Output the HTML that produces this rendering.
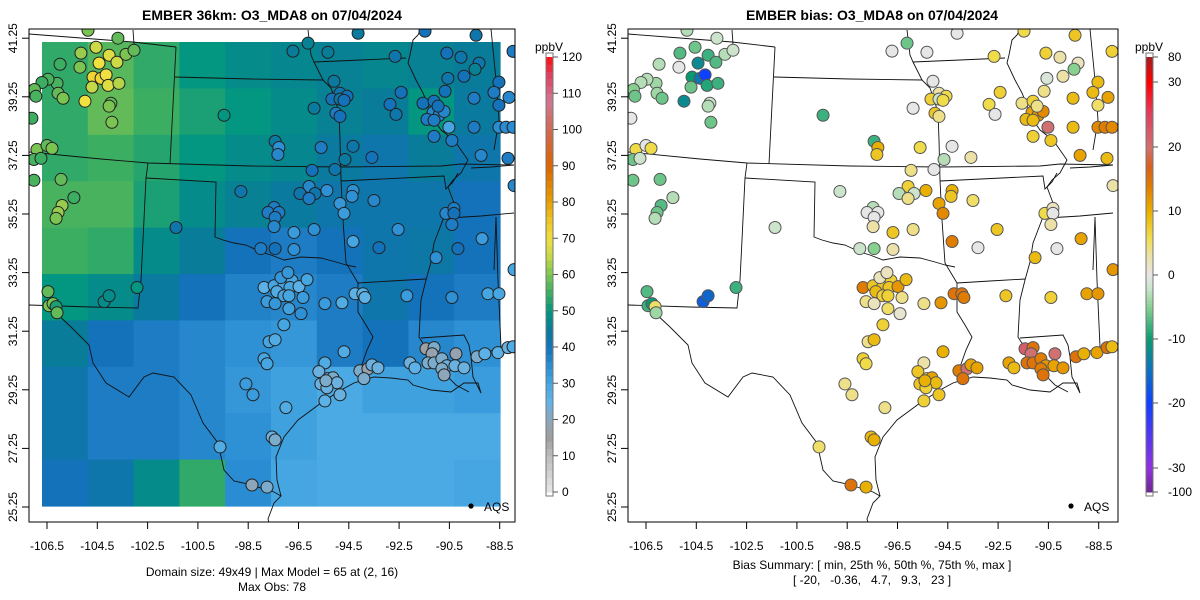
<!DOCTYPE html>
<html><head><meta charset="utf-8"><style>
html,body{margin:0;padding:0;background:#fff;}
svg{display:block;font-family:"Liberation Sans",Arial,sans-serif;}
</style></head><body>
<svg id="root" width="1200" height="600" viewBox="0 0 1200 600" xmlns="http://www.w3.org/2000/svg">
<defs>
<clipPath id="clipL"><rect x="29" y="29" width="486" height="493"/></clipPath>
<clipPath id="clipR"><rect x="628" y="29" width="490" height="493"/></clipPath>
</defs>
<text x="272" y="20" text-anchor="middle" font-size="14" font-weight="bold">EMBER 36km: O3_MDA8 on 07/04/2024</text>
<text x="872" y="20" text-anchor="middle" font-size="14" font-weight="bold">EMBER bias: O3_MDA8 on 07/04/2024</text>
<g id="left" clip-path="url(#clipL)"></g>
<g id="right" clip-path="url(#clipR)"></g>
<rect x="29" y="29" width="486" height="493" fill="none" stroke="#000" stroke-width="1"/>
<rect x="628" y="29" width="490" height="493" fill="none" stroke="#000" stroke-width="1"/>
<g id="axes"></g>
<g id="cbars"></g>
<text x="272" y="576" text-anchor="middle" font-size="12">Domain size: 49x49 | Max Model = 65 at (2, 16)</text>
<text x="272" y="591" text-anchor="middle" font-size="12">Max Obs: 78</text>
<text x="872" y="569" text-anchor="middle" font-size="12">Bias Summary: [ min, 25th %, 50th %, 75th %, max ]</text>
<text x="872" y="584" text-anchor="middle" font-size="12" xml:space="preserve">[ -20,   -0.36,   4.7,   9.3,   23 ]</text>
</svg>
<script>
// ---- data ----
const lonTicks = [-106.5,-104.5,-102.5,-100.5,-98.5,-96.5,-94.5,-92.5,-90.5,-88.5];
const latTicks = [25.25,27.25,29.25,31.25,33.25,35.25,37.25,39.25,41.25];
const obsTicks = [0,10,20,30,40,50,60,70,80,90,100,110,120];
const biasTicks = [-100,-30,-20,-10,0,10,20,30,80];
// model grid (ppbV), rows north->south, cols west->east
const modelGrid = [
 [54,57,54,50,48,47,46,47,46,45],
 [54,58,55,52,50,48,46,45,50,44],
 [54,55,53,50,48,47,44,42,45,42],
 [56,56,52,48,46,44,42,42,42,40],
 [55,54,48,45,40,38,40,42,43,40],
 [50,48,44,40,37,36,38,42,40,38],
 [45,40,38,36,34,33,38,40,36,34],
 [42,38,38,36,33,31,29,31,31,32],
 [42,38,38,36,34,31,29,29,29,29],
 [40,42,48,54,35,30,29,29,29,30]
];
const stLon = [-104.87,-103.68,-105.15,-104.55,-104.03,-103.36,-103.04,-103.72,-104.43,-105.98,-105.19,-104.67,-104.35,-104.15,-104.07,-103.64,-104.71,-106.1,-106.46,-106.7,-107.0,-106.94,-106.06,-105.86,-104.99,-103.96,-104.03,-103.92,-107.1,-106.9,-106.5,-106.3,-107.02,-106.74,-107.02,-105.94,-105.43,-105.9,-106.06,-106.14,-101.37,-99.46,-96.72,-96.12,-95.33,-94.13,-91.47,-89.44,-92.66,-90.6,-90.04,-89.32,-89.48,-90.56,-89.92,-88.53,-87.97,-95.09,-94.85,-94.57,-95.17,-94.85,-94.69,-95.88,-95.01,-94.85,-92.42,-92.86,-92.62,-91.55,-91.11,-91.15,-90.91,-90.71,-91.39,-91.11,-90.95,-90.52,-91.11,-90.4,-90.67,-89.52,-88.73,-88.13,-88.53,-89.52,-88.53,-88.25,-87.97,-89.24,-88.17,-94.33,-93.58,-94.65,-95.6,-97.43,-97.28,-97.32,-95.96,-95.05,-96.08,-96.44,-95.84,-96.08,-95.37,-98.79,-94.33,-94.37,-94.85,-94.69,-93.5,-92.54,-94.33,-93.3,-97.47,-97.71,-97.28,-97.43,-97.47,-96.68,-95.88,-98.0,-97.43,-96.68,-90.64,-90.32,-90.32,-90.4,-89.2,-90.16,-91.03,-87.93,-87.93,-106.46,-106.42,-106.26,-106.14,-106.1,-104.23,-104.03,-102.92,-97.87,-97.47,-97.08,-96.76,-97.2,-96.92,-97.36,-96.84,-96.48,-96.16,-97.08,-96.88,-96.32,-97.75,-97.43,-96.88,-96.4,-97.08,-97.67,-97.43,-97.87,-97.75,-98.59,-98.31,-97.0,-97.55,-97.43,-99.62,-98.35,-97.75,-95.45,-94.77,-94.25,-93.94,-93.86,-92.19,-90.4,-88.97,-88.53,-94.69,-95.45,-95.69,-95.33,-95.13,-94.97,-95.61,-95.37,-95.41,-95.45,-94.85,-94.06,-93.74,-93.9,-93.58,-93.34,-92.07,-91.87,-91.43,-91.11,-91.19,-91.35,-91.11,-90.8,-90.6,-90.8,-90.71,-90.24,-90.28,-89.92,-89.4,-89.09,-88.57,-88.17,-87.97];
const stLat = [41.52,41.25,40.74,40.94,40.67,40.7,40.84,40.43,40.4,40.36,40.26,39.92,39.88,40.0,39.64,39.71,39.58,39.71,39.85,39.74,39.5,39.27,39.37,39.2,39.1,39.03,38.93,38.38,38.52,37.45,37.59,37.49,37.11,37.15,36.4,36.43,35.81,35.54,35.3,35.1,34.79,38.62,40.81,41.08,40.77,41.42,41.49,41.35,40.63,40.74,40.6,40.4,40.19,39.88,39.95,39.75,40.8,39.78,39.37,39.27,39.17,39.17,39.13,38.86,38.69,38.58,39.4,38.99,38.65,39.03,39.1,38.72,38.62,38.75,38.48,38.45,38.93,38.21,37.9,37.76,39.44,39.2,39.4,39.23,38.96,38.21,38.21,38.21,38.21,37.25,37.15,37.56,37.18,37.11,37.52,37.73,37.52,37.28,36.74,36.77,36.19,35.95,35.95,35.78,36.05,36.02,36.05,35.85,35.61,35.27,35.71,34.72,34.31,34.1,35.47,35.3,35.3,35.13,34.82,34.62,34.72,34.07,34.07,34.04,35.27,35.44,35.27,34.89,34.41,34.07,33.76,36.22,33.35,32.6,32.12,32.19,32.09,31.88,32.26,32.46,32.74,32.74,32.8,32.8,32.98,33.08,33.25,32.6,32.74,32.77,33.01,32.46,32.46,32.4,32.26,32.19,32.02,31.85,31.47,30.89,30.96,30.31,30.14,29.45,29.08,28.64,27.64,27.54,27.3,26.0,25.93,32.19,32.22,32.53,32.53,32.4,32.46,32.4,32.53,32.53,30.55,30.17,29.87,29.63,29.66,29.49,29.45,29.32,29.56,28.87,29.08,29.9,29.97,29.63,30.1,30.0,30.17,30.0,30.65,30.69,30.48,30.17,30.17,30.31,30.07,29.97,29.76,30.48,30.07,30.0,30.38,30.48,30.52,30.69,30.72];
const stObs = [60,58,62,66,68,60,58,66,70,55,60,72,72,70,68,64,65,56,56,55,58,56,58,60,70,58,60,60,55,60,58,60,56,55,56,58,55,62,62,60,42,50,45,46,45,44,40,42,42,40,42,42,46,42,40,40,38,44,42,40,40,44,40,44,38,40,40,40,42,40,40,36,36,36,38,38,40,30,38,38,40,38,38,36,40,38,35,35,35,36,38,42,40,44,38,44,34,36,40,42,36,42,42,38,34,42,34,34,33,32,36,34,30,40,38,38,38,38,36,32,34,38,40,34,36,38,40,38,32,40,34,36,30,58,60,60,52,58,48,48,50,26,30,30,30,33,33,28,30,26,30,30,30,32,32,33,31,34,30,30,28,30,30,32,32,28,24,22,28,20,22,32,28,26,26,26,32,34,30,30,28,28,24,24,22,24,24,24,22,26,24,22,18,22,24,24,24,26,16,22,18,22,22,22,24,22,20,18,24,24,22,26,26,24,28];
const stBias = [-3,-2,-7,-6,-8,-3,-2,-7,-12,-3,0,-10,-14,-20,-9,-8,-6,-4,-3,-3,-5,-6,-4,-6,-12,-2,-3,-6,0,6,0,6,-6,-2,-6,-6,-3,-7,-6,-3,-2,-8,0,-6,0,0,6,8,6,7,3,2,-5,-1,3,9,7,0,3,6,7,-2,6,0,8,4,7,6,0,4,7,11,12,13,9,9,4,20,7,8,4,9,9,11,5,9,13,14,13,11,9,0,3,-3,6,-8,10,8,4,0,7,-3,-2,4,10,-2,10,8,11,13,5,8,14,0,-3,0,0,0,3,8,4,-2,-5,3,6,2,0,3,11,0,9,3,12,-7,-8,-10,5,-4,-17,-16,-8,14,8,8,7,2,2,9,8,12,9,7,7,4,4,2,5,1,7,4,9,7,6,4,4,4,9,10,5,15,10,4,12,15,15,14,8,7,11,12,10,3,8,7,11,9,8,7,10,7,8,14,20,15,11,11,11,9,22,15,20,15,15,14,12,14,15,20,11,12,15,10,11,15,9];

// ---- scales ----
const NS='http://www.w3.org/2000/svg';
function xR(lon){return 646+(lon+106.5)*25.15;}
function xL(lon){return xR(lon)-599;}
function yM(lat){return 507-(lat-25.25)*29.3;}
function mk(tag,attrs,parent){const e=document.createElementNS(NS,tag);for(const k in attrs)e.setAttribute(k,attrs[k]);parent.appendChild(e);return e;}
function hex(h){return [parseInt(h.slice(1,3),16),parseInt(h.slice(3,5),16),parseInt(h.slice(5,7),16)];}
function interp(stops,v){
  if(v<=stops[0][0])return stops[0][1];
  for(let i=1;i<stops.length;i++){if(v<=stops[i][0]){const a=stops[i-1],b=stops[i];const t=(v-a[0])/(b[0]-a[0]);const c1=hex(a[1]),c2=hex(b[1]);return 'rgb('+c1.map((c,j)=>Math.round(c+(c2[j]-c)*t)).join(',')+')';}}
  return stops[stops.length-1][1];
}
const obsStops=[[0,'#e6e6e6'],[10,'#bdbdbd'],[15,'#9e9e9e'],[20,'#8ea6ba'],[25,'#62b4e8'],[30,'#45a6e2'],[35,'#2a8cd2'],[40,'#1472ba'],[45,'#087c98'],[50,'#039680'],[55,'#3cae62'],[60,'#7cc452'],[65,'#c4d848'],[70,'#f0e040'],[75,'#eec420'],[80,'#e8a000'],[90,'#dc6400'],[100,'#d06a50'],[108,'#d07896'],[115,'#e04060'],[120,'#ff1010']];
const biasStops=[[-100,'#6a2a8e'],[-30,'#9430e0'],[-20,'#1040ff'],[-15,'#0e70c0'],[-10,'#0a9a72'],[-5,'#86d090'],[-2,'#cce4cc'],[0,'#e6e6e6'],[3,'#ece2a8'],[6,'#f0dc48'],[10,'#eab000'],[14,'#e07c00'],[17,'#d8601c'],[20,'#d07070'],[25,'#e04060'],[30,'#ff0000'],[80,'#a02020']];
function obsCol(v){return interp(obsStops,v);}
function biasCol(v){return interp(biasStops,v);}

// ---- map borders (map-space pixel polylines, right panel frame) ----
const borders=[
 [[628,34],[680,38],[732,42],[775,47]],
 [[732,30],[733,44]],
 [[775,47],[772,105],[769,164]],
 [[774,77],[850,79],[922,80]],
 [[907,30],[910,55],[913,62],[918,72],[922,80],[930,88],[938,112],[939,140],[940,180]],
 [[913,62],[960,60],[1005,58]],
 [[1020,29],[1017,35],[1012,40],[1009,55],[1007,63],[1015,80],[1022,93],[1028,108],[1033,120],[1040,130],[1053,140],[1060,150],[1067,160],[1060,173],[1052,180],[1047,187],[1053,203],[1047,210],[1043,217],[1038,230],[1033,243],[1030,262],[1025,280],[1020,300],[1018,337],[1025,348],[1033,362],[1045,375],[1055,385],[1068,392]],
 [[628,152],[700,159],[747,163],[850,166],[940,167],[1040,166],[1060,164],[1113,165]],
 [[940,181],[1043,176],[1045,189],[1052,182],[1057,173]],
 [[747,163],[745,178],[742,240],[740,280],[737,308],[690,307],[628,305]],
 [[745,178],[815,182],[814,237],[822,240],[833,243],[845,245],[860,252],[870,255],[883,260],[900,257],[920,258],[935,262],[945,265],[955,267]],
 [[940,180],[942,220],[945,263],[957,283]],
 [[957,283],[990,281],[1025,279]],
 [[957,283],[957,312],[965,325],[972,337],[966,350],[960,367]],
 [[1020,338],[1063,335],[1068,345],[1070,357]],
 [[1047,218],[1080,216],[1113,213]],
 [[1093,270],[1095,217]],
 [[1095,217],[1097,280],[1100,347]],
 [[1090,29],[1095,80],[1098,120],[1093,150]],
 [[1113,165],[1090,167],[1070,168]],
 [[655,313],[670,327],[688,345],[692,363],[705,383],[728,397],[743,377],[752,373],[773,377],[790,395],[802,423],[817,443],[823,470],[833,481],[847,484],[873,492],[880,496],[873,503],[867,519],[870,530]],
 [[880,496],[876,480],[875,457],[883,437],[897,420],[920,403],[940,390],[953,383],[973,377],[990,378],[1007,380],[1012,385],[1030,390],[1050,392],[1063,383],[1077,383],[1080,393],[1072,377],[1070,357],[1093,350],[1113,347],[1120,346]]
];

const L=document.getElementById('left'), R=document.getElementById('right');
// raster
const rx0=42, ry0=42, rw=458, rh=464;
const nR=modelGrid.length, nC=modelGrid[0].length;
const rasterG=mk('g',{},L);


modelGrid.forEach((row,i)=>row.forEach((v,j)=>{
  const c=mk('rect',{x:rx0+j*rw/nC,y:ry0+i*rh/nR,width:rw/nC+0.6,height:rh/nR+0.6,fill:obsCol(v)},rasterG);
  
  
}));
function drawBorders(parent,dx,name){
  const g=mk('g',{transform:'translate('+dx+',0)'},parent);
  
  
  borders.forEach(b=>{mk('polyline',{points:b.map(p=>p.join(',')).join(' '),fill:'none',stroke:'#111',"stroke-width":0.9},g);});
}
drawBorders(L,-599,'left-state-borders');
drawBorders(R,0,'right-state-borders');
// stations
const gL=mk('g',{},L), gR=mk('g',{},R);




for(let i=0;i<stLon.length;i++){
  const a=mk('circle',{cx:xL(stLon[i]),cy:yM(stLat[i]),r:6,fill:obsCol(stObs[i]),stroke:'#222',"stroke-width":1},gL);
  
  
  const b=mk('circle',{cx:xR(stLon[i]),cy:yM(stLat[i]),r:6,fill:biasCol(stBias[i]),stroke:'#555',"stroke-width":1},gR);
  
  
}
// AQS legends
[[L,471],[R,1071]].forEach(([p,x])=>{
  const d=mk('circle',{cx:x,cy:506,r:2.6,fill:'#000'},p);
  
  
  const t=mk('text',{x:x+13,y:511,"font-size":12},p);t.textContent='AQS';
  
  
});
// axes
const AX=document.getElementById('axes');
[[xL,29,13],[xR,628,612]].forEach(([xf,bx,lx])=>{
  lonTicks.forEach(v=>{
    const x=xf(v);
    mk('line',{x1:x,y1:522,x2:x,y2:529,stroke:'#000'},AX);
    const t=mk('text',{x:x,y:550,"text-anchor":"middle","font-size":12},AX);
    t.textContent=v.toFixed(1);
    
    
  });
  latTicks.forEach(v=>{
    const y=yM(v);
    mk('line',{x1:bx,y1:y,x2:bx-7,y2:y,stroke:'#000'},AX);
    const t=mk('text',{x:lx,y:y,"text-anchor":"middle","font-size":12,transform:'rotate(-90 '+lx+' '+y+')',"dominant-baseline":"central"},AX);
    t.textContent=v.toFixed(2);
    
    
  });
});
// colorbars
const CB=document.getElementById('cbars');
function obsY(v){return 492-(v/120)*435;}
const biasYs=[492,468,403,339,275,211,147,82,57];
function biasY(v){
  for(let i=1;i<biasTicks.length;i++){if(v<=biasTicks[i]){const t=(v-biasTicks[i-1])/(biasTicks[i]-biasTicks[i-1]);return biasYs[i-1]+(biasYs[i]-biasYs[i-1])*t;}}
  return biasYs[biasYs.length-1];
}
const cbL=mk('g',{},CB);


for(let v=0;v<120;v+=2){mk('rect',{x:546,y:obsY(v+2),width:7,height:obsY(v)-obsY(v+2)+0.5,fill:obsCol(v+1)},cbL);}
mk('rect',{x:546,y:53,width:7,height:443,fill:'none',stroke:'#777'},cbL);
obsTicks.forEach(v=>{const y=obsY(v);mk('line',{x1:553,y1:y,x2:558,y2:y,stroke:'#555'},cbL);const t=mk('text',{x:562,y:y+4,"font-size":12},cbL);t.textContent=v;});
const pL=mk('text',{x:549,y:51,"text-anchor":"middle","font-size":12},cbL);pL.textContent='ppbV';
const cbR=mk('g',{},CB);


for(let i=0;i<biasYs.length-1;i++){
  const n=20;
  for(let k=0;k<n;k++){
    const v0=biasTicks[i]+(biasTicks[i+1]-biasTicks[i])*k/n, v1=biasTicks[i]+(biasTicks[i+1]-biasTicks[i])*(k+1)/n;
    mk('rect',{x:1146,y:biasY(v1),width:7,height:biasY(v0)-biasY(v1)+0.5,fill:biasCol((v0+v1)/2)},cbR);
  }
}
mk('rect',{x:1146,y:53,width:7,height:443,fill:'none',stroke:'#777'},cbR);
biasTicks.forEach(v=>{const y=biasY(v);mk('line',{x1:1153,y1:y,x2:1158,y2:y,stroke:'#555'},cbR);const t=mk('text',{x:1168,y:y+4,"font-size":12},cbR);t.textContent=v;});
const pR=mk('text',{x:1149,y:51,"text-anchor":"middle","font-size":12},cbR);pR.textContent='ppbV';
</script>
</body></html>
